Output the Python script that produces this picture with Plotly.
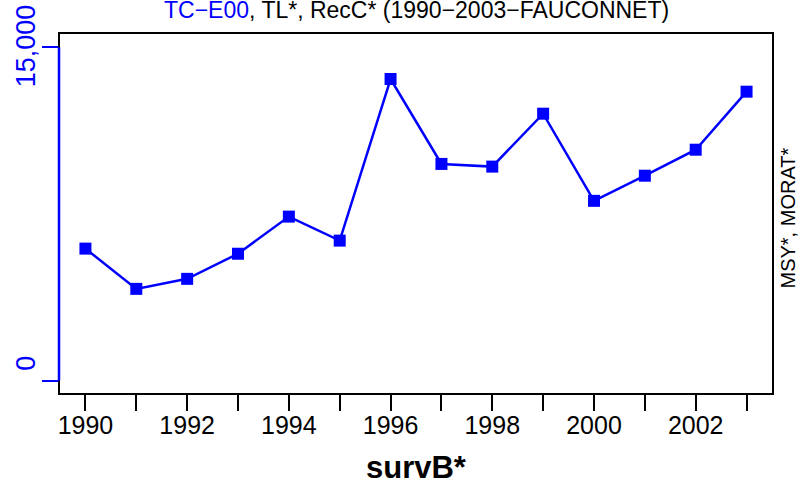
import plotly.graph_objects as go

# Annual series, 1990-2003
years = list(range(1990, 2004))
values = [5940, 4130, 4580, 5710, 7380, 6300, 13570, 9750, 9630, 12010, 8090, 9220, 10390, 13000]

# Axis ticks
x_tickvals = years
x_ticktext = [str(y) if y % 2 == 0 else "" for y in years]
y_tickvals = [0, 15000]
y_ticktext = ["0", "15,000"]

BLUE = "#0000FF"
FONT = "Liberation Sans, Arial, sans-serif"

fig = go.Figure()

fig.add_trace(go.Scatter(
    x=years, y=values,
    mode="lines+markers",
    line=dict(color=BLUE, width=2.5),
    marker=dict(symbol="square", size=12, color=BLUE),
    showlegend=False,
    hoverinfo="x+y",
))

fig.update_layout(
    width=799, height=491,
    margin=dict(l=59, r=26, t=33, b=97),
    paper_bgcolor="white",
    plot_bgcolor="white",
    font=dict(family=FONT, color="black"),
    xaxis=dict(
        range=[1989.48, 2003.52],
        tickmode="array", tickvals=x_tickvals, ticktext=x_ticktext,
        ticks="outside", ticklen=16, tickwidth=2, tickcolor="black",
        ticklabelstandoff=-7,
        tickfont=dict(size=25, color="black", family=FONT),
        showgrid=False, zeroline=False, showline=False,
    ),
    yaxis=dict(
        range=[-600, 15640],
        tickmode="array", tickvals=y_tickvals,
        ticks="outside", ticklen=16, tickwidth=2, tickcolor=BLUE,
        showticklabels=False,
        showgrid=False, zeroline=False, showline=False,
    ),
    shapes=[
        # plot frame
        dict(type="rect", xref="paper", yref="paper", x0=0, x1=1, y0=0, y1=1,
             line=dict(color="black", width=2), layer="above"),
        # left value axis spanning the tick range
        dict(type="line", xref="paper", yref="y", x0=0, x1=0, y0=0, y1=15000,
             line=dict(color=BLUE, width=2.5), layer="above"),
    ],
)

annotations = [
    dict(text=f'<span style="color:{BLUE}">TC\u2212E00</span>, TL*, RecC* (1990\u22122003\u2212FAUCONNET)',
         xref="paper", yref="paper", x=0.5, y=1, yshift=23,
         xanchor="center", yanchor="middle", showarrow=False,
         font=dict(size=23, color="black", family=FONT)),
    dict(text="<b>survB*</b>", xref="paper", yref="paper", x=0.5, y=0, yshift=-73,
         xanchor="center", yanchor="middle", showarrow=False,
         font=dict(size=31, color="black", family=FONT)),
    dict(text="MSY*, MORAT*", xref="paper", yref="paper", x=1, y=0.5, xshift=14, yshift=-5,
         xanchor="center", yanchor="middle", textangle=-90, showarrow=False,
         font=dict(size=20, color="black", family=FONT)),
]
# rotated value-axis labels
label_shift = {0: 17, 15000: 1}
for v, t in zip(y_tickvals, y_ticktext):
    annotations.append(dict(
        text=t, xref="paper", yref="y", x=0, y=v, xshift=-33, yshift=label_shift[v],
        xanchor="center", yanchor="middle", textangle=-90, showarrow=False,
        font=dict(size=27, color=BLUE, family=FONT)))

fig.update_layout(annotations=annotations)

fig.write_html("out.html")
